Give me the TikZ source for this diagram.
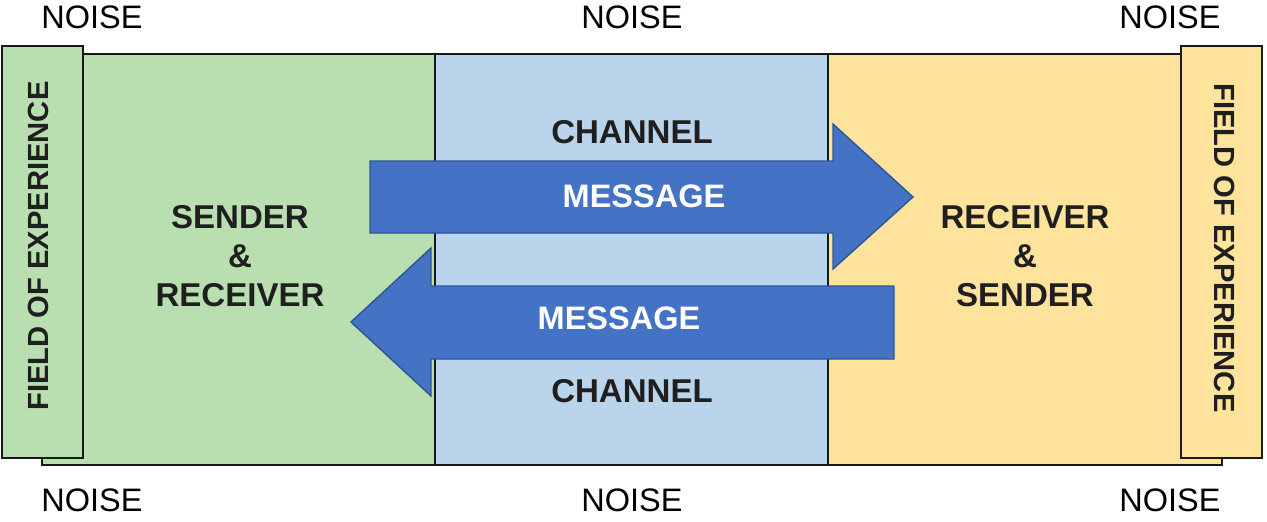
\documentclass[tikz,border=0pt]{standalone}
\usepackage{fontspec}
\setmainfont{Liberation Sans}
\begin{document}
\begin{tikzpicture}[x=0.02cm,y=-0.02cm,
  frame/.style={draw=black!90,line width=1.1pt},
  noise/.style={font=\fontsize{18.5}{20}\selectfont},
  lbl/.style={font=\bfseries\fontsize{18.8}{22}\selectfont,text=black!88,align=center},
  msg/.style={font=\bfseries\fontsize{18.5}{20}\selectfont,text=white},
  foe/.style={font=\bfseries\fontsize{16.6}{20}\selectfont,text=black!88},
  arr/.style={fill=arrowblue,draw=arrowedge,line width=0.8pt,line join=miter}]
\definecolor{grn}{HTML}{B9DFB1}
\definecolor{blu}{HTML}{B9D4EB}
\definecolor{yel}{HTML}{FDE39C}
\definecolor{arrowblue}{HTML}{4472C4}
\definecolor{arrowedge}{HTML}{2F5597}
\useasboundingbox (0,0) rectangle (1267,521);
% regions
\fill[grn] (42,54) rectangle (435,465);
\fill[blu] (435,54) rectangle (828,465);
\fill[yel] (828,54) rectangle (1222,465);
\draw[frame] (42,54) rectangle (1222,465);
\draw[frame] (435,54) -- (435,465);
\draw[frame] (828,54) -- (828,465);
% field of experience boxes
\draw[frame,fill=grn] (2,46) rectangle (83,458);
\draw[frame,fill=yel] (1181,46) rectangle (1262,458);
\node[foe,rotate=90] (foeL) at (38,246) {FIELD OF EXPERIENCE};
\node[foe,rotate=-90] (foeR) at (1225,248) {FIELD OF EXPERIENCE};
% arrows
\draw[arr] (370,161) -- (833,161) -- (833,124) -- (913,197) -- (833,269) -- (833,233) -- (370,233) -- cycle;
\draw[arr] (894,286) -- (431,286) -- (431,248) -- (351,322) -- (431,396) -- (431,359) -- (894,359) -- cycle;
% labels
\node[lbl] (ch1) at (632,132) {CHANNEL};
\node[lbl] (ch2) at (632,391) {CHANNEL};
\node[msg] (m1) at (644,196) {MESSAGE};
\node[msg] (m2) at (619,318) {MESSAGE};
\node[lbl] (sr) at (240,256) {SENDER\\\&\\RECEIVER};
\node[lbl] (rs) at (1025,256) {RECEIVER\\\&\\SENDER};
% noise
\node[noise] (n1) at (92,17) {NOISE};
\node[noise] (n2) at (632,17) {NOISE};
\node[noise] (n3) at (1170,17) {NOISE};
\node[noise] (n4) at (92,500) {NOISE};
\node[noise] (n5) at (632,500) {NOISE};
\node[noise] (n6) at (1170,500) {NOISE};
\end{tikzpicture}
\end{document}
